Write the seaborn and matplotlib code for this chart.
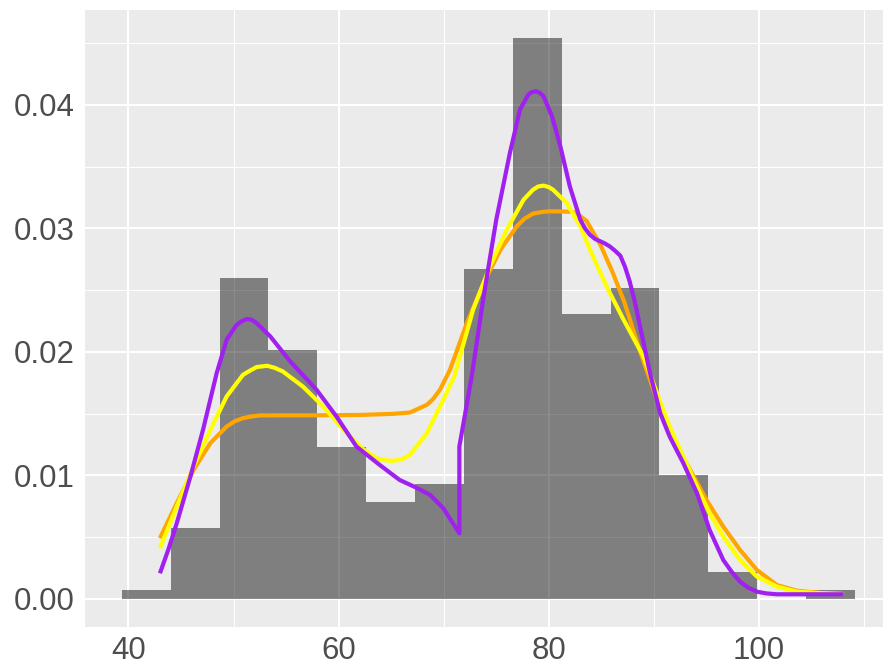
import matplotlib
matplotlib.use("Agg")
import matplotlib.pyplot as plt
from matplotlib.ticker import MultipleLocator, FixedLocator
import seaborn as sns
import numpy as np

# ---- data ----
bin_edges = [39.37, 44.02, 48.67, 53.32, 57.97, 62.62, 67.27, 71.92, 76.58,
             81.23, 85.88, 90.53, 95.18, 99.83, 104.48, 109.13]
bin_density = [0.00070, 0.00577, 0.02596, 0.02019, 0.01228, 0.00788, 0.00933,
               0.02670, 0.04542, 0.02304, 0.02522, 0.01006, 0.00215, 0.0, 0.00070]

orange_x = [43.0, 44.6, 46.2, 47.8, 49.35, 50.1, 50.9, 51.7, 52.5, 54.7, 57.9, 62.0,
            65.2, 66.8, 68.4, 69.0, 69.65, 70.6, 72.2, 73.8, 75.4, 76.95, 77.7, 78.5,
            79.3, 80.1, 81.2, 82.3, 83.0, 83.6, 84.9, 86.1, 87.2, 88.7, 90.3, 91.85,
            93.45, 95.0, 96.6, 98.2, 99.8, 101.7, 103.6, 106.1, 108.0]
orange_y = [0.00492, 0.00776, 0.01045, 0.01262, 0.01396, 0.01438, 0.01464, 0.01478,
            0.01486, 0.01487, 0.01487, 0.01490, 0.01499, 0.01510, 0.01572, 0.01620,
            0.01694, 0.01856, 0.02234, 0.02558, 0.02828, 0.03017, 0.03080, 0.03120,
            0.03133, 0.03139, 0.03138, 0.03134, 0.03100, 0.03060, 0.02870, 0.02640,
            0.02400, 0.02000, 0.01613, 0.01289, 0.01045, 0.00802, 0.00586, 0.00397,
            0.00235, 0.00113, 0.00067, 0.00046, 0.00040]

yellow_x = [43.0, 44.6, 46.2, 47.8, 49.35, 50.9, 51.6, 52.2, 53.2, 53.9, 54.7, 56.6,
            58.55, 60.45, 62.2, 63.6, 64.4, 65.2, 66.0, 66.8, 68.4, 69.96, 71.0, 72.8,
            74.4, 76.0, 77.6, 78.5, 79.0, 79.5, 80.0, 80.4, 81.7, 83.0, 84.2, 85.5,
            87.0, 89.0, 90.3, 91.5, 92.8, 94.1, 95.3, 96.6, 98.2, 99.8, 101.7, 103.6,
            106.1, 108.0]
yellow_y = [0.00411, 0.00748, 0.01072, 0.01370, 0.01640, 0.01815, 0.01850, 0.01878,
            0.01888, 0.01872, 0.01842, 0.01720, 0.01558, 0.01370, 0.01220, 0.01140,
            0.01124, 0.01118, 0.01130, 0.01167, 0.01343, 0.01613, 0.01800, 0.02342,
            0.02693, 0.02990, 0.03233, 0.03314, 0.03340, 0.03347, 0.03335, 0.03314,
            0.03207, 0.03017, 0.02774, 0.02531, 0.02280, 0.01964, 0.01667, 0.01396,
            0.01153, 0.00910, 0.00694, 0.00505, 0.00316, 0.00181, 0.00100, 0.00059,
            0.00046, 0.00040]

purple_x = [43.0, 43.8, 44.6, 45.9, 47.1, 48.4, 49.35, 50.3, 50.8, 51.25, 51.7, 52.2,
            53.5, 55.4, 57.9, 59.8, 61.7, 63.9, 65.8, 67.3, 68.7, 69.96, 71.49, 71.49,
            72.66, 73.8, 75.0, 76.3, 77.26, 78.05, 78.4, 78.8, 79.15, 79.5, 80.3, 81.1,
            82.0, 83.0, 83.45, 83.9, 84.4, 84.9, 85.3, 85.8, 86.3, 86.8, 87.25, 87.7,
            88.2, 88.7, 89.6, 90.6, 91.5, 92.8, 94.1, 95.3, 96.6, 97.4, 98.2, 99.0,
            99.8, 100.7, 101.7, 108.0]
purple_y = [0.00208, 0.00400, 0.00613, 0.00991, 0.01370, 0.01829, 0.02100, 0.02220,
            0.02250, 0.02267, 0.02262, 0.02234, 0.02126, 0.01923, 0.01694, 0.01477,
            0.01234, 0.01086, 0.00964, 0.00905, 0.00843, 0.00735, 0.00532, 0.01234,
            0.01800, 0.02450, 0.03070, 0.03612, 0.03963, 0.04084, 0.04105, 0.04111,
            0.04098, 0.04070, 0.03909, 0.03665, 0.03341, 0.03070, 0.03000, 0.02950,
            0.02915, 0.02896, 0.02880, 0.02855, 0.02820, 0.02780, 0.02690, 0.02570,
            0.02400, 0.02200, 0.01840, 0.01505, 0.01315, 0.01100, 0.00857, 0.00559,
            0.00316, 0.00220, 0.00140, 0.00090, 0.00059, 0.00045, 0.00038, 0.00038]

x_ticks = [40, 60, 80, 100]
x_tick_labels = ["40", "60", "80", "100"]
y_ticks = [0.00, 0.01, 0.02, 0.03, 0.04]
y_tick_labels = ["0.00", "0.01", "0.02", "0.03", "0.04"]

# ---- style ----
sns.set_theme(style="darkgrid")
plt.rcParams["font.family"] = ["Liberation Sans", "DejaVu Sans"]

W, H = 883, 665
fig = plt.figure(figsize=(W / 100, H / 100), dpi=100)
ax = fig.add_axes([85 / W, 38 / H, 798 / W, 617 / H])
ax.set_facecolor("#EBEBEB")
ax.set_axisbelow(True)

centers = [(bin_edges[i] + bin_edges[i + 1]) / 2 for i in range(len(bin_density))]
sns.histplot(x=centers, weights=bin_density, bins=bin_edges, stat="count",
             color="black", alpha=0.46, edgecolor="none", linewidth=0, ax=ax)

lw = 3.0
sns.lineplot(x=orange_x, y=orange_y, sort=False, estimator=None, color="#FFA500",
             linewidth=lw, ax=ax, solid_capstyle="butt", solid_joinstyle="round")
sns.lineplot(x=yellow_x, y=yellow_y, sort=False, estimator=None, color="#FFFF00",
             linewidth=lw, ax=ax, solid_capstyle="butt", solid_joinstyle="round")
sns.lineplot(x=purple_x, y=purple_y, sort=False, estimator=None, color="#A020F0",
             linewidth=lw, ax=ax, solid_capstyle="butt", solid_joinstyle="round")

ax.set_xlim(35.87, 111.8)
ax.set_ylim(-0.00227, 0.04769)

ax.xaxis.set_major_locator(FixedLocator(x_ticks))
ax.set_xticklabels(x_tick_labels)
ax.yaxis.set_major_locator(FixedLocator(y_ticks))
ax.set_yticklabels(y_tick_labels)
ax.xaxis.set_minor_locator(MultipleLocator(10))
ax.yaxis.set_minor_locator(MultipleLocator(0.005))

ax.grid(which="major", color="white", linewidth=1.5)
ax.grid(which="minor", color="white", linewidth=0.75)

for s in ax.spines.values():
    s.set_visible(False)

ax.tick_params(axis="both", which="major", length=4.2, width=1.1, color="#333333",
               labelcolor="#4D4D4D", labelsize=22.5, direction="out")
ax.tick_params(axis="x", which="major", pad=2.0)
ax.tick_params(axis="y", which="major", pad=3.5)
ax.tick_params(which="minor", length=0)
ax.set_xlabel("")
ax.set_ylabel("")

fig.savefig("out.png", dpi=100, facecolor="white")
